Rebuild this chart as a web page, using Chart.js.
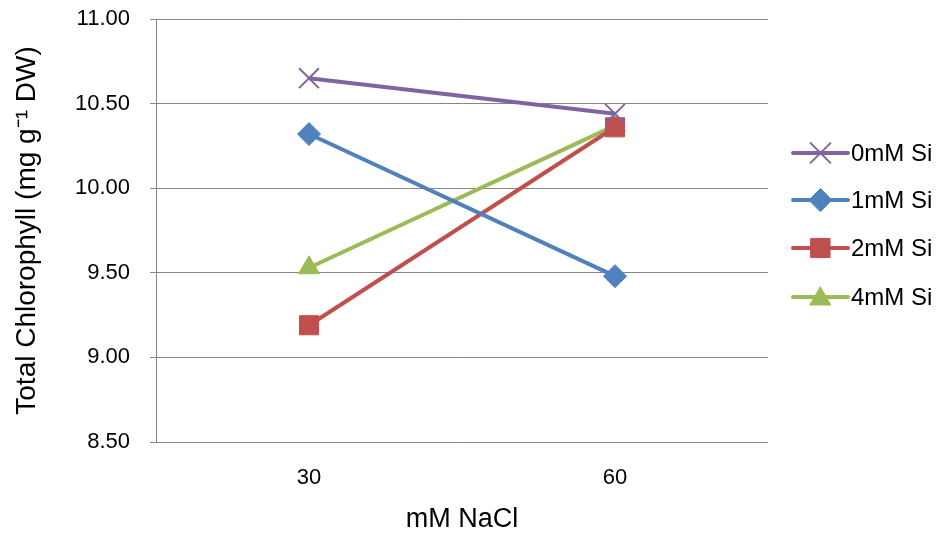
<!DOCTYPE html>
<html><head><meta charset="utf-8">
<script src="https://cdn.jsdelivr.net/npm/chart.js@4"></script>
<style>html,body{margin:0;padding:0;background:#fff}#w{width:941px;height:537px}</style>
</head><body><div id="w"><canvas id="c"></canvas></div>
<script>
const categories = ['30', '60'];
const si0 = [10.65, 10.44];
const si1 = [10.32, 9.48];
const si2 = [9.19, 10.36];
const si4 = [9.53, 10.37];
const seriesNames = ['0mM Si', '1mM Si', '2mM Si', '4mM Si'];
const yTicks = [8.5, 9.0, 9.5, 10.0, 10.5, 11.0];

const colors = ['#8064A2', '#4F81BD', '#C0504D', '#9BBB59'];
const styles = ['crossRot', 'rectRot', 'rect', 'triangle'];
const radii = [14, 11.5, 13.5, 12];
const FONT = "'Liberation Sans', Arial, sans-serif";

const legendPlugin = {
  id: 'sideLegend',
  afterDraw(chart) {
    const ctx = chart.ctx;
    const x1 = 793, x2 = 848;
    const ys = [153, 200, 248, 297];
    chart.data.datasets.forEach((ds, i) => {
      const y = ys[i];
      ctx.save();
      ctx.strokeStyle = ds.borderColor;
      ctx.lineWidth = 4;
      ctx.lineCap = 'round';
      ctx.beginPath(); ctx.moveTo(x1, y); ctx.lineTo(x2, y); ctx.stroke();
      ctx.fillStyle = ds.pointBackgroundColor;
      ctx.strokeStyle = ds.pointBorderColor;
      ctx.lineWidth = ds.pointBorderWidth;
      const py = ds.pointStyle === 'triangle' ? y + 2 : y;
      Chart.helpers.drawPoint(ctx, {pointStyle: ds.pointStyle, radius: ds.pointRadius, borderWidth: ds.pointBorderWidth, rotation: 0}, (x1 + x2) / 2, py);
      ctx.fillStyle = '#000';
      ctx.font = "24px " + FONT;
      ctx.textBaseline = 'middle';
      ctx.textAlign = 'left';
      ctx.fillText(ds.label, 851, y + 1);
      ctx.restore();
    });
  }
};

const allData = [si0, si1, si2, si4];
new Chart(document.getElementById('c'), {
  type: 'line',
  data: {
    labels: categories,
    datasets: allData.map((d, i) => ({
      label: seriesNames[i],
      data: d,
      borderColor: colors[i],
      backgroundColor: colors[i],
      borderWidth: 4,
      pointStyle: styles[i],
      pointRadius: radii[i],
      pointHoverRadius: radii[i],
      pointBackgroundColor: colors[i],
      pointBorderColor: colors[i],
      pointBorderWidth: i === 0 ? 2 : 1,
      tension: 0
    }))
  },
  options: {
    responsive: true,
    maintainAspectRatio: false,
    animation: false,
    events: [],
    layout: { padding: { left: 10, right: 173, top: 19, bottom: 0 } },
    plugins: { legend: { display: false }, tooltip: { enabled: false } },
    scales: {
      x: {
        offset: true,
        afterFit(s) { s.height = 95; s.paddingLeft = 0; s.paddingRight = 0; },
        grid: { display: false, drawTicks: false },
        border: { display: false },
        ticks: { color: '#000', font: { family: FONT, size: 22 }, padding: 23 },
        title: { display: true, text: 'mM NaCl', color: '#000', font: { family: FONT, size: 27 }, padding: { top: 12, bottom: 1 } }
      },
      y: {
        min: 8.5, max: 11.0,
        afterFit(s) { s.width = 146; s.paddingTop = 0; s.paddingBottom = 0; },
        afterBuildTicks(axis) { axis.ticks = yTicks.map(v => ({ value: v })); },
        grid: { color: '#868686', lineWidth: 1, tickLength: 6, drawTicks: true },
        border: { display: true, color: '#868686', width: 1 },
        ticks: { color: '#000', font: { family: FONT, size: 22 }, padding: 20, callback: v => Number(v).toFixed(2) },
        title: { display: true, text: 'Total Chlorophyll (mg g\u207B\u00B9 DW)', color: '#000', font: { family: FONT, size: 28 }, padding: { top: 0, bottom: 4 } }
      }
    }
  },
  plugins: [legendPlugin]
});
</script></body></html>
